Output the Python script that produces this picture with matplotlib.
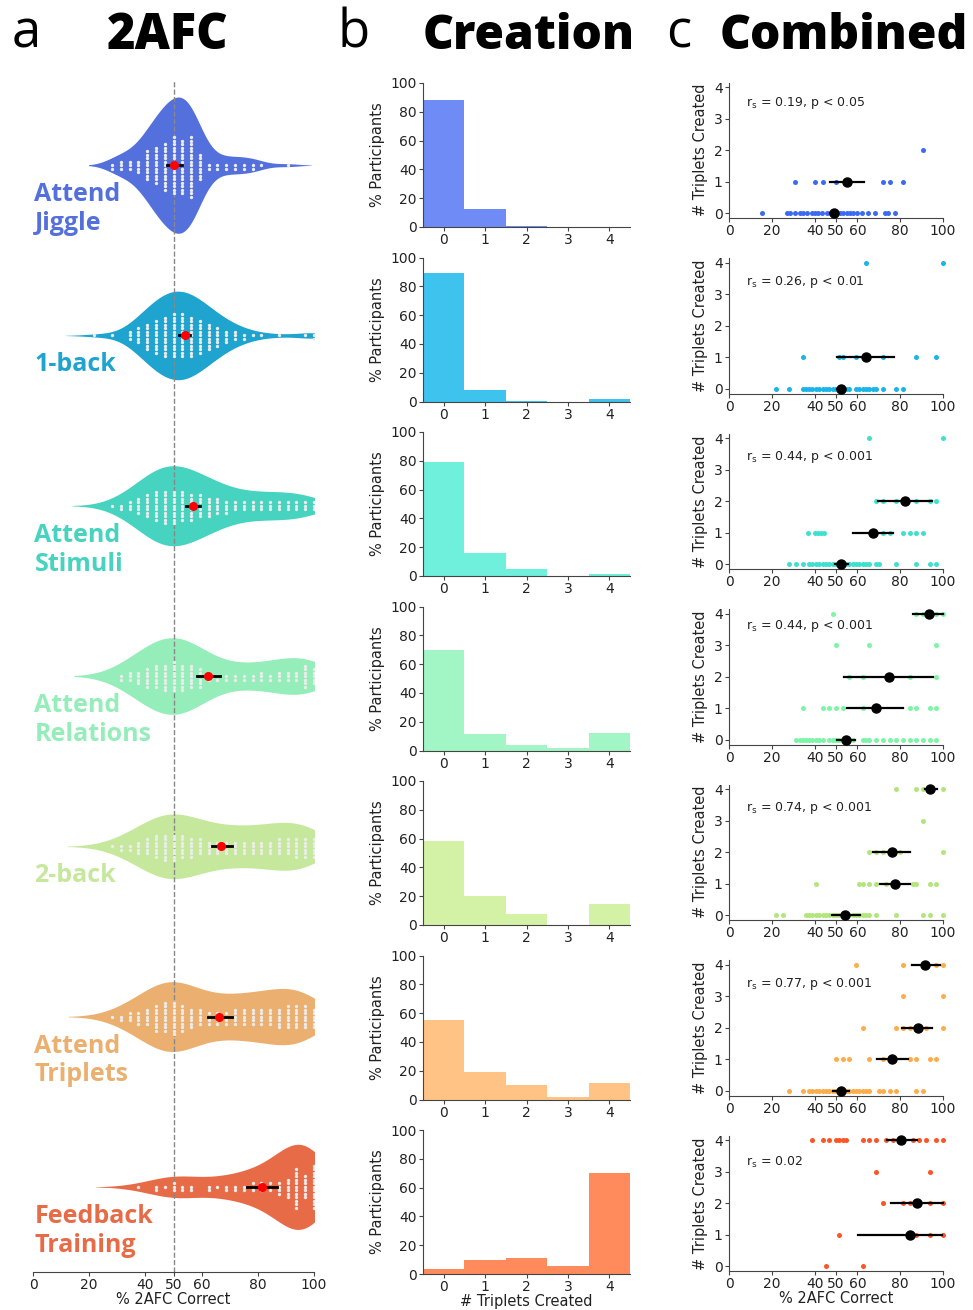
import numpy as np
import pandas as pd
import matplotlib
matplotlib.use("Agg")
import matplotlib.pyplot as plt
import seaborn as sns

# conditions, top to bottom
conds = ["Attend\nJiggle", "1-back", "Attend\nStimuli", "Attend\nRelations",
         "2-back", "Attend\nTriplets", "Feedback\nTraining"]
violin_colors = ["#5470dc", "#1fa3cf", "#46d3bf", "#95eeb9", "#c6e89c", "#ebb06f", "#e86b47"]
hist_colors = ["#6f8cf6", "#3ec3ef", "#6ff0dc", "#a2f5c5", "#d3f2a5", "#ffc385", "#ff8a5c"]
dot_colors = ["#3d6af5", "#19b5ea", "#3fe0cf", "#7cf5a6", "#b2e67a", "#ffac4a", "#ff5426"]
# widest half-height of each violin (in row units)
violin_half = [0.40, 0.26, 0.235, 0.225, 0.19, 0.205, 0.25]

# 2AFC scores (number correct out of 32) and how many participants got each
jiggle_k = [9, 10, 11, 12, 13, 14, 15, 16, 17, 18, 19, 20, 21, 22, 23, 24, 25, 26, 29]
jiggle_n = [2, 3, 3, 4, 9, 11, 14, 17, 16, 18, 8, 2, 2, 2, 2, 2, 2, 1, 1]
oneback_k = [7, 9, 11, 12, 13, 14, 15, 16, 17, 18, 19, 20, 21, 22, 23, 24, 25, 26, 28, 31, 32]
oneback_n = [1, 1, 3, 5, 8, 10, 12, 13, 13, 12, 10, 8, 6, 4, 3, 2, 1, 1, 1, 1, 2]
stimuli_k = [9, 10, 11, 12, 13, 14, 15, 16, 17, 18, 19, 20, 21, 22, 23, 24, 25, 26, 27, 28, 29, 30, 31, 32]
stimuli_n = [1, 2, 3, 5, 7, 9, 10, 10, 9, 8, 7, 6, 5, 4, 3, 3, 3, 3, 3, 3, 3, 3, 3, 3]
relations_k = [10, 11, 12, 13, 14, 15, 16, 17, 18, 19, 20, 21, 22, 23, 24, 25, 26, 27, 28, 29, 30, 31, 32]
relations_n = [2, 3, 4, 6, 7, 8, 9, 8, 7, 6, 2, 2, 2, 2, 2, 2, 3, 2, 3, 3, 3, 7, 5]
twoback_k = [9, 10, 11, 12, 13, 14, 15, 16, 17, 18, 19, 20, 21, 22, 23, 24, 25, 26, 27, 28, 29, 30, 31, 32]
twoback_n = [1, 2, 2, 4, 5, 7, 8, 8, 7, 6, 5, 4, 4, 4, 4, 4, 4, 4, 4, 5, 5, 6, 6, 6]
triplets_k = [9, 10, 11, 12, 13, 14, 15, 16, 17, 18, 19, 20, 21, 22, 23, 24, 25, 26, 27, 28, 29, 30, 31, 32]
triplets_n = [1, 2, 3, 4, 5, 8, 9, 10, 8, 6, 5, 4, 4, 4, 5, 5, 5, 5, 5, 6, 7, 7, 7, 6]
feedback_k = [12, 14, 15, 16, 17, 18, 20, 21, 22, 23, 24, 25, 26, 27, 28, 29, 30, 31, 32]
feedback_n = [1, 2, 1, 3, 2, 2, 2, 1, 2, 2, 2, 3, 3, 3, 4, 6, 12, 7, 13]
violin_k = [jiggle_k, oneback_k, stimuli_k, relations_k, twoback_k, triplets_k, feedback_k]
violin_n = [jiggle_n, oneback_n, stimuli_n, relations_n, twoback_n, triplets_n, feedback_n]

# group mean and 95% CI of 2AFC score
afc_mean = [50.3, 54.0, 57.0, 62.3, 67.0, 66.2, 81.5]
afc_lo = [47.7, 52.0, 54.4, 58.3, 63.7, 62.3, 76.0]
afc_hi = [53.0, 56.0, 59.4, 66.5, 70.8, 70.8, 86.8]

# % participants creating 0..4 triplets
n_triplets = [0, 1, 2, 3, 4]
hist_jiggle = [88, 12.5, 1, 0, 0]
hist_oneback = [89.5, 8.3, 0.3, 0, 1.8]
hist_stimuli = [79, 16, 5, 0.3, 1.4]
hist_relations = [70, 11.5, 4, 2, 12]
hist_twoback = [58, 20, 7.6, 0.3, 14.6]
hist_triplets = [55, 19.4, 10.4, 1.5, 11.8]
hist_feedback = [3.5, 9.5, 11, 5.5, 70]
hists = [hist_jiggle, hist_oneback, hist_stimuli, hist_relations,
         hist_twoback, hist_triplets, hist_feedback]

# 2AFC score of each participant, keyed by # triplets created
sc_jiggle = {0: [15.3, 27.3, 28.5, 30.8, 33.2, 34.7, 36.3, 38.6, 40.2, 41.7, 43.3, 45.6, 47.2, 48.8,
                 50.3, 51.9, 53.4, 55, 56.5, 58.1, 59.7, 62, 65.1, 68.2, 72.9, 74.5, 77.6],
             1: [31, 40, 44, 50, 71.9, 75, 81.25],
             2: [90.6]}
sc_oneback = {0: [21.9, 28.1, 34.4, 35.9, 37.5, 39, 40.6, 42.2, 43.75, 45.3, 46.9, 48.4, 50, 51.6,
                  53.1, 54.7, 56.25, 59.4, 60.9, 62.5, 64, 65.6, 67.2, 68.75, 71.9, 78.1, 81.25],
              1: [34.4, 51.6, 53.1, 59.4, 64, 71.9, 87.5, 96.9],
              4: [64, 100]}
sc_stimuli = {0: [28.1, 31.25, 34.4, 37.5, 39, 40.6, 42.2, 43.75, 45.3, 46.9, 48.4, 50, 51.6, 53.1,
                  54.7, 56.25, 57.8, 59.4, 60.9, 62.5, 64, 65.6, 68.75, 70.3, 78.1, 87.5, 93.75, 96.9],
              1: [36.8, 40, 41.5, 43, 44.5, 71.9, 75, 81.25, 84.4, 87.5, 90.6],
              2: [68.75, 71.9, 78.1, 87.5, 93.75, 96.9],
              4: [65.6, 100]}
sc_relations = {0: [31.25, 33, 34.4, 36, 37.5, 39, 40.6, 42.2, 43.75, 46.9, 48.4, 50, 51.6, 53.1, 54.7,
                    56.25, 57.8, 62.5, 64, 65.6, 68.75, 71.9, 75, 78.1, 81.25, 84.4, 87.5, 90.6, 93.75, 96.9],
                1: [34.4, 43.75, 46.9, 50, 53.1, 62.5, 84.4, 87.5, 93.75, 96.9],
                2: [56.25, 62.5, 84.4, 96.9],
                3: [50, 65.6, 96.9],
                4: [48.4, 87.5, 90.6, 93.75, 96.9, 100]}
sc_twoback = {0: [21.9, 25, 36, 37.5, 39, 40.6, 42.2, 43.75, 45.3, 46.9, 48.4, 50, 51.6, 53.1, 54.7,
                  56.25, 57.8, 59.4, 60.9, 62.5, 64, 65.6, 68.75, 78.1, 90.6, 93.75, 100],
              1: [40.6, 60.9, 62.5, 65.6, 68.75, 73.4, 85.9, 87.5, 93.75, 96.9],
              2: [65.6, 68.75, 71.9, 79.7, 100],
              3: [90.6],
              4: [78.1, 87.5, 90.6, 95.3, 100]}
sc_triplets = {0: [28.1, 34.4, 37.5, 39, 40.6, 42.2, 43.75, 45.3, 46.9, 48.4, 50, 51.6, 53.1, 54.7,
                   56.25, 57.8, 59.4, 60.9, 62.5, 64, 65.6, 70.3, 71.9, 75, 78.1, 87.5, 90.6],
               1: [50, 53.1, 56.25, 65.6, 71.9, 84.4, 87.5, 93.75, 96.9],
               2: [62.5, 78.1, 81.25, 84.4, 92.2, 100],
               3: [81.25, 100],
               4: [59.4, 81.25, 96.9, 100]}
sc_feedback = {0: [45.3, 62.5],
               1: [51.6, 87.5, 93.75, 100],
               2: [71.9, 81.25, 84.4, 93.75, 100],
               3: [68.75, 93.75],
               4: [39, 43.75, 46.9, 50, 51.6, 53.1, 54.7, 62.5, 65.6, 68.75, 73.4, 76.6, 81.25,
                   85.9, 89, 92.2, 96.9, 100]}
scatters = [sc_jiggle, sc_oneback, sc_stimuli, sc_relations, sc_twoback, sc_triplets, sc_feedback]

# (triplets, mean score, ci low, ci high) per group
mn_jiggle = [(0, 49, 47, 51), (1, 55, 47, 63)]
mn_oneback = [(0, 52.2, 50.5, 54), (1, 64, 50.5, 77)]
mn_stimuli = [(0, 52.3, 49.5, 55.8), (1, 67.4, 57.8, 76.8), (2, 82.2, 69.8, 94.7)]
mn_relations = [(0, 54.7, 50.6, 58.9), (1, 68.5, 55.3, 81.5), (2, 74.8, 53.9, 95.5), (4, 93.6, 85.8, 100)]
mn_twoback = [(0, 54.2, 48, 61), (1, 77.6, 70.6, 84.6), (2, 76, 67.4, 84.6), (4, 94, 91.6, 97)]
mn_triplets = [(0, 52.3, 48.8, 56.2), (1, 76.2, 69, 83.8), (2, 88.2, 81, 95), (4, 91.6, 85.7, 98.6)]
mn_feedback = [(1, 84.6, 60.4, 99.4), (2, 88, 75.5, 99.8), (4, 80.4, 73.7, 87.7)]
group_means = [mn_jiggle, mn_oneback, mn_stimuli, mn_relations, mn_twoback, mn_triplets, mn_feedback]

stats = [r"r$_\mathrm{s}$ = 0.19, p < 0.05", r"r$_\mathrm{s}$ = 0.26, p < 0.01",
         r"r$_\mathrm{s}$ = 0.44, p < 0.001", r"r$_\mathrm{s}$ = 0.44, p < 0.001",
         r"r$_\mathrm{s}$ = 0.74, p < 0.001", r"r$_\mathrm{s}$ = 0.77, p < 0.001",
         r"r$_\mathrm{s}$ = 0.02"]
stats_y = [3.5, 3.4, 3.4, 3.6, 3.4, 3.4, 3.3]

W, H = 973, 1310
fig = plt.figure(figsize=(W / 100, H / 100), dpi=100)
TXT = "#222222"
SPINE = "#444444"


def px_axes(left, top, width, height):
    return fig.add_axes([left / W, 1 - (top + height) / H, width / W, height / H])


def style(ax, left=True):
    for s in ["top", "right"]:
        ax.spines[s].set_visible(False)
    ax.spines["left"].set_visible(left)
    for s in ["left", "bottom"]:
        ax.spines[s].set_color(SPINE)
    ax.tick_params(labelsize=10, colors=SPINE, labelcolor=TXT, length=3, pad=1.5)


def kde_outline(vals):
    # gaussian kde with scott bandwidth, cut at 2 bandwidths like seaborn
    bw = vals.std(ddof=1) * len(vals) ** (-0.2)
    grid = np.linspace(vals.min() - 2 * bw, vals.max() + 2 * bw, 400)
    dens = np.exp(-0.5 * ((grid[:, None] - vals[None, :]) / bw) ** 2).sum(axis=1)
    return grid, dens / dens.max()


# ---- a: violins ----
frames = []
for name, ks, ns in zip(conds, violin_k, violin_n):
    frames.append(pd.DataFrame({"score": np.repeat(np.array(ks) / 32 * 100, ns), "cond": name}))
df = pd.concat(frames, ignore_index=True)

axv = px_axes(33, 80, 281, 1192)
sns.swarmplot(data=df, x="score", y="cond", order=conds, color="#ececec", size=2.4,
              ax=axv, zorder=3)
for i, name in enumerate(conds):
    grid, dens = kde_outline(df.loc[df["cond"] == name, "score"].to_numpy())
    half = dens * violin_half[i]
    axv.fill_between(grid, i - half, i + half, color=violin_colors[i], linewidth=0, zorder=1)
    axv.plot([afc_lo[i], afc_hi[i]], [i, i], color="k", lw=2, zorder=5)
    axv.plot(afc_mean[i], i, "o", color="red", ms=5.5, zorder=6)
    axv.text(0.5, i + 0.1, name, color=violin_colors[i], fontsize=18,
             fontweight="bold", family="Open Sans", va="top", ha="left", linespacing=1.2)
axv.axvline(50, color="#888888", ls="--", lw=1, zorder=2)
axv.set_xlim(0, 100)
axv.set_ylim(6.5, -0.5)
axv.set_yticks([])
axv.set_ylabel("")
axv.set_xticks([0, 20, 40, 50, 60, 80, 100])
axv.set_xlabel("% 2AFC Correct", fontsize=10.5, color=TXT, labelpad=0)
style(axv, left=False)

# ---- b and c ----
for i in range(len(conds)):
    axh = px_axes(423, 83 + 174.5 * i, 207, 144)
    axh.bar(n_triplets, hists[i], width=1.0, color=hist_colors[i], linewidth=0)
    axh.set_xlim(-0.5, 4.5)
    axh.set_ylim(0, 100)
    axh.set_xticks(n_triplets)
    axh.set_yticks(range(0, 101, 20))
    axh.set_ylabel("% Participants", fontsize=10.5, color=TXT)
    style(axh)

    axs = px_axes(729, 82.5 + 175.5 * i, 214, 135.5)
    for trip, xs in scatters[i].items():
        axs.scatter(xs, [trip] * len(xs), s=13, color=dot_colors[i], linewidths=0,
                    clip_on=False, zorder=3)
    for trip, m, lo, hi in group_means[i]:
        axs.plot([lo, hi], [trip, trip], color="k", lw=1.6, zorder=4, clip_on=False)
        axs.plot(m, trip, "o", color="k", ms=6.5, zorder=5, clip_on=False)
    axs.text(8, stats_y[i], stats[i], fontsize=9, color=TXT, va="center", ha="left")
    axs.set_xlim(0, 100)
    axs.set_ylim(-0.15, 4.15)
    axs.set_xticks([0, 20, 40, 50, 60, 80, 100])
    axs.set_yticks([0, 1, 2, 3, 4])
    axs.set_ylabel("# Triplets Created", fontsize=10.5, color=TXT)
    style(axs)

axh.set_xlabel("# Triplets Created", fontsize=10.5, color=TXT, labelpad=0)
axs.set_xlabel("% 2AFC Correct", fontsize=10.5, color=TXT, labelpad=0)

# panel titles
fig.text(12 / W, 1 - 47 / H, "a", fontsize=38, family="Open Sans", va="baseline", color="k")
fig.text(107 / W, 1 - 49 / H, "2AFC", fontsize=35, family="Open Sans", fontweight="heavy",
         va="baseline", color="k")
fig.text(338 / W, 1 - 47 / H, "b", fontsize=38, family="Open Sans", va="baseline", color="k")
fig.text(423 / W, 1 - 49 / H, "Creation", fontsize=34.5, family="Open Sans", fontweight="heavy",
         va="baseline", color="k")
fig.text(666 / W, 1 - 47 / H, "c", fontsize=38, family="Open Sans", va="baseline", color="k")
fig.text(720 / W, 1 - 49 / H, "Combined", fontsize=34.5, family="Open Sans", fontweight="heavy",
         va="baseline", color="k")

fig.savefig("out.png", dpi=100)
